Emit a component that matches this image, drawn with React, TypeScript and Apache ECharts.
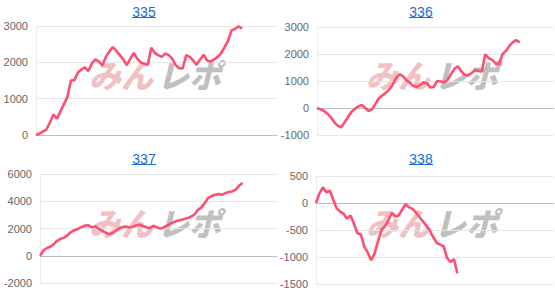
import React, { useEffect, useRef } from "react";
import * as echarts from "echarts";

const titles = ["335", "336", "337", "338"];
const categories = Array.from({ length: 70 }, (_, i) => String(i + 1));

const s335 = [0, 40, 100, 150, 350, 560, 450, 650, 850, 1050, 1500, 1510, 1720, 1800, 1860, 1760, 1970, 2080, 2020, 1920, 2150, 2300, 2420, 2320, 2200, 2080, 1920, 2100, 2260, 2100, 2000, 1960, 1930, 2400, 2260, 2200, 2150, 2240, 2200, 2100, 1920, 1840, 1830, 2200, 2150, 2050, 1930, 2080, 2210, 2050, 2020, 2080, 2150, 2250, 2420, 2600, 2880, 2920, 2990, 2930];
const s336 = [0, -50, -100, -210, -340, -520, -650, -720, -540, -340, -150, -40, 60, 110, 10, -110, -50, 150, 360, 460, 560, 680, 850, 1110, 1250, 1180, 1030, 940, 820, 780, 850, 950, 920, 760, 780, 1000, 980, 950, 1030, 1250, 1450, 1550, 1360, 1230, 1200, 1300, 1400, 1380, 1350, 1990, 1850, 1780, 1650, 1620, 2000, 2110, 2300, 2430, 2520, 2430];
const s337 = [0, 380, 570, 660, 850, 1100, 1240, 1330, 1500, 1740, 1870, 1960, 2100, 2200, 2250, 2090, 2150, 2000, 1850, 1710, 1600, 1640, 1830, 2000, 2100, 2150, 2080, 2130, 2220, 2280, 2180, 2100, 2020, 2200, 2090, 1990, 2080, 2210, 2350, 2470, 2570, 2630, 2700, 2780, 2880, 3030, 3370, 3550, 3880, 4250, 4380, 4480, 4540, 4480, 4600, 4680, 4720, 4850, 5150, 5340];
const s338 = [0, 180, 290, 200, 230, 60, -100, -160, -200, -290, -230, -380, -560, -580, -810, -920, -1060, -930, -700, -500, -430, -320, -180, -250, -230, -120, -20, -80, -110, -180, -260, -340, -420, -510, -630, -740, -770, -800, -1020, -1090, -1040, -1300];

const seriesData = [s335, s336, s337, s338];
const yMins = [0, -1000, -2000, -1500];
const yMaxs = [3000, 3000, 6000, 500];
const yIntervals = [1000, 1000, 2000, 500];

const grids = [
  { left: 36, top: 26, width: 241, height: 109 },
  { left: 317, top: 27, width: 237, height: 108 },
  { left: 40, top: 174, width: 237, height: 109 },
  { left: 316, top: 176, width: 238, height: 108 },
];
const titlePos = [
  [144, 12],
  [421, 12],
  [144, 159],
  [421, 159],
];
const markPos = [
  [89, 74],
  [366, 74],
  [89, 222],
  [366, 222],
];

export default function App() {
  const ref = useRef<HTMLDivElement>(null);
  useEffect(() => {
    if (!ref.current) return;
    const chart = echarts.init(ref.current, undefined, { renderer: "svg" });
    const font = "'Liberation Sans', Arial, sans-serif";
    const graphic: any[] = [];
    titles.forEach((t, i) => {
      const [cx, cy] = titlePos[i];
      graphic.push({
        type: "text",
        x: cx,
        y: cy,
        z: 10,
        style: {
          text: t,
          fill: "#1a6dd4",
          font: `14px ${font}`,
          textAlign: "center",
          textVerticalAlign: "middle",
          align: "center",
          verticalAlign: "middle",
        },
      });
      graphic.push({
        type: "line",
        z: 10,
        shape: { x1: cx - 12, y1: cy + 5.5, x2: cx + 12, y2: cy + 5.5 },
        style: { stroke: "#1a6dd4", lineWidth: 1 },
      });
      const [mx, my] = markPos[i];
      graphic.push({
        type: "text",
        x: mx,
        y: my,
        z: 0,
        silent: true,
        style: {
          text: "みん",
          fill: "rgba(226,130,135,0.5)",
          font: `italic 900 32px 'Noto Sans CJK JP', sans-serif`,
          textAlign: "left",
          textVerticalAlign: "middle",
          align: "left",
          verticalAlign: "middle",
        },
      });
      graphic.push({
        type: "text",
        x: mx + 68,
        y: my,
        z: 0,
        silent: true,
        style: {
          text: "レポ",
          fill: "rgba(150,150,150,0.6)",
          font: `italic 900 32px 'Noto Sans CJK JP', sans-serif`,
          textAlign: "left",
          textVerticalAlign: "middle",
          align: "left",
          verticalAlign: "middle",
        },
      });
    });

    const option: any = {
      animation: false,
      grid: grids.map((g) => ({ ...g, containLabel: false })),
      graphic,
      xAxis: grids.map((_, i) => ({
        type: "category",
        gridIndex: i,
        data: categories,
        boundaryGap: false,
        axisLabel: { show: false },
        axisTick: { show: false },
        axisLine: { show: true, lineStyle: { color: "#bdbdbd", width: 1 } },
        splitLine: { show: false },
      })),
      yAxis: grids.map((_, i) => ({
        type: "value",
        gridIndex: i,
        min: yMins[i],
        max: yMaxs[i],
        interval: yIntervals[i],
        axisLabel: {
          color: "#666",
          fontSize: 11,
          fontFamily: font,
          margin: 8,
          formatter: (v: number) => String(v),
        },
        axisTick: { show: false },
        axisLine: { show: true, lineStyle: { color: "#ececec" } },
        splitLine: { show: true, lineStyle: { color: "#e6e6e6" } },
      })),
      series: seriesData.map((d, i) => ({
        type: "line",
        xAxisIndex: i,
        yAxisIndex: i,
        data: d,
        showSymbol: false,
        symbol: "none",
        lineStyle: { color: "#ff4f70", width: 2.6 },
        z: 5,
      })),
    };
    chart.setOption(option);
    return () => chart.dispose();
  }, []);
  return (
    <div
      ref={ref}
      style={{ position: "fixed", left: 0, top: 0, width: 555, height: 294, background: "#fff" }}
    />
  );
}
